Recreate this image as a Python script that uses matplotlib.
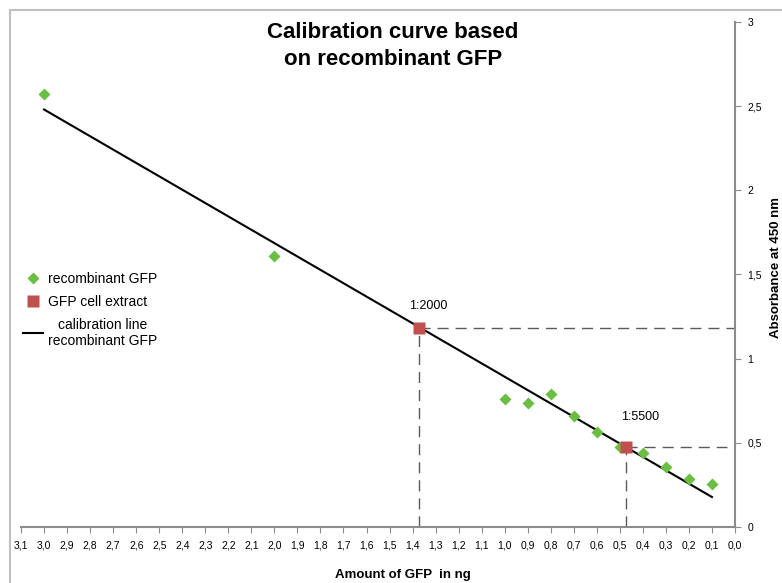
import matplotlib
matplotlib.use('Agg')
import matplotlib.pyplot as plt
from matplotlib.lines import Line2D
from matplotlib.patches import Rectangle

plt.rcParams['font.family'] = ['Liberation Sans', 'DejaVu Sans']

# recombinant GFP standards (ng, absorbance at 450 nm)
std_ng = [3.0, 2.0, 1.0, 0.9, 0.8, 0.7, 0.6, 0.5, 0.4, 0.3, 0.2, 0.1]
std_abs = [2.57, 1.61, 0.76, 0.735, 0.79, 0.66, 0.565, 0.475, 0.44, 0.355, 0.285, 0.255]

# cell extract samples
ext_ng = [1.37, 0.475]
ext_abs = [1.18, 0.473]
ext_labels = ['1:2000', '1:5500']

# calibration line end points
line_ng = [3.0, 0.1]
line_abs = [2.48, 0.178]

xticks = [i / 10 for i in range(31, -1, -1)]
yticks = [0, 0.5, 1, 1.5, 2, 2.5, 3]

green = '#6abf40'
red = '#c0504d'
grey = '#8c8c8c'

fig = plt.figure(figsize=(7.82, 5.83), dpi=100)
ax = fig.add_axes([0.0269, 0.0961, 0.9130, 0.8662])

# outer chart frame
fig.patches.append(Rectangle((10 / 782, -0.1), 1.2, 1 - 10 / 583 + 0.1,
                             transform=fig.transFigure, fill=False,
                             edgecolor='#c0c0c0', lw=1.5))

# reading lines for the extracts
for xv, yv, xend in zip(ext_ng, ext_abs, [0.0, 0.035]):
    ax.plot([xv, xv], [0, yv], color='#5a5a5a', lw=1, dashes=(8, 5), zorder=2)
    ax.plot([xv, xend], [yv, yv], color='#5a5a5a', lw=1, dashes=(8, 5), zorder=2)

ax.plot(line_ng, line_abs, color='black', lw=1.5, zorder=3)
ax.plot(std_ng, std_abs, 'D', color=green, ms=6.5, mec='none', zorder=4)
ax.plot(ext_ng, ext_abs, 's', color=red, ms=8, mec='none', zorder=5)

ax.text(1.33, 1.31, ext_labels[0], fontsize=9, ha='center', va='center')
ax.text(0.41, 0.655, ext_labels[1], fontsize=9, ha='center', va='center')

ax.set_xlim(3.1, 0.0)
ax.set_ylim(0, 3)
ax.set_xticks(xticks)
ax.set_xticklabels([f'{t:.1f}'.replace('.', ',') for t in xticks], fontsize=7.5)
ax.set_yticks(yticks)
ax.set_yticklabels([str(t).replace('.', ',') for t in yticks], fontsize=7.5)
ax.yaxis.tick_right()
ax.tick_params(axis='both', direction='out', length=4, color=grey, pad=6)
ax.tick_params(axis='y', pad=5)
for s in ['top', 'left']:
    ax.spines[s].set_visible(False)
for s in ['bottom', 'right']:
    ax.spines[s].set_color(grey)
    ax.spines[s].set_linewidth(1.5)

fig.text(403 / 782, 1 - 575 / 583, 'Amount of GFP  in ng', fontsize=9.5,
         fontweight='bold', ha='center', va='center')
fig.text(776 / 782, 1 - 268 / 583, 'Absorbance at 450 nm', fontsize=9.5,
         fontweight='bold', ha='center', va='center', rotation=90)
fig.text(393 / 782, 1 - 46 / 583, 'Calibration curve based\non recombinant GFP',
         fontsize=16, fontweight='bold', ha='center', va='center',
         linespacing=1.35)

handles = [
    Line2D([], [], marker='D', ls='none', color=green, ms=6.5, mec='none'),
    Line2D([], [], marker='s', ls='none', color=red, ms=8, mec='none'),
    Line2D([], [], color='black', lw=1.5),
]
labels = ['recombinant GFP', 'GFP cell extract', 'calibration line\nrecombinant GFP']
leg = fig.legend(handles, labels, loc='upper left',
                 bbox_to_anchor=(10 / 782, 1 - 259 / 583),
                 frameon=False, fontsize=10, handlelength=1.5, handletextpad=0.3,
                 labelspacing=0.65)
leg.get_texts()[2].set_multialignment('center')
leg.get_texts()[2].set_linespacing(1.2)

fig.savefig('out.png', dpi=100)
